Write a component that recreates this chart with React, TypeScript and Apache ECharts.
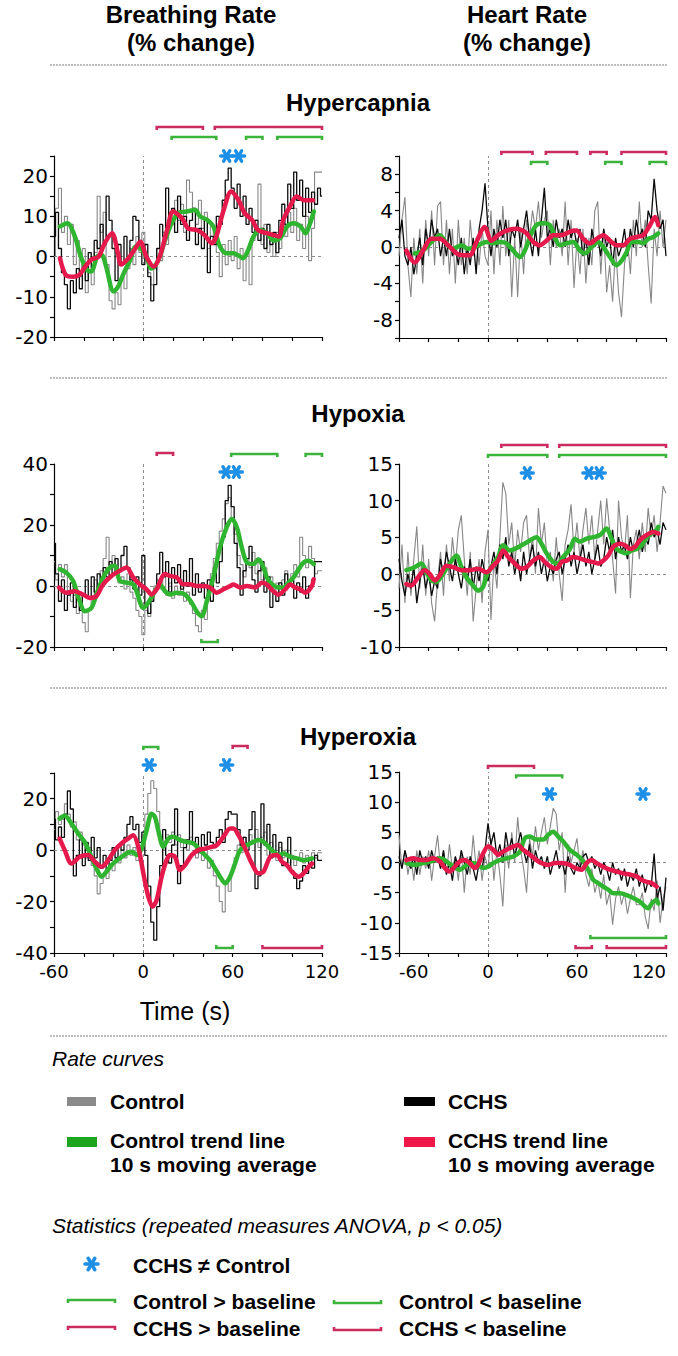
import React, { useEffect, useRef } from "react";
import * as echarts from "echarts";

const FONT = '"Liberation Sans", Arial, Helvetica, sans-serif';
const TICK_FONT = '"DejaVu Sans", "Liberation Sans", Arial, sans-serif';
const RAW_T0 = -60;
const RAW_DT = 2;

const COL_CTRL_RAW = "#878787";
const COL_CCHS_RAW = "#0a0a0a";
const COL_CTRL_TREND = "#2fb52f";
const COL_CCHS_TREND = "#e5194c";
const COL_CTRL_BRACKET = "#3cb43c";
const COL_CCHS_BRACKET = "#cc2b5e";
const COL_STAR = "#1e8fe6";

// ---------- Breathing rate, Hypercapnia ----------
const brHcCchs = [
  5, 11, 2, -4, -7, -13, -6, -9, -3, -8,
  -2, -6, 1, -3, 4, 2, 8, 3, 15, 9,
  2, -6, 3, -2, 5, 0, 4, 10, 9, 2,
  -2, 3, -5, -11, -7, 2, 8, 5, 17, 10,
  12, 6, 15, 8, 10, 4, 9, 12, 3, 7,
  2, 9, -4, 5, 3, 10, 8, 14, 19, 22,
  17, 12, 18, 10, 15, 8, 12, 6, 9, 4,
  7, 2, 8, 3, 6, 1, 9, 13, 8, 18,
  12, 21, 14, 19, 10, 17, 11, 16, 13, 17,
  15,
];
const brHcCtrl = [
  0, 12, 17, 6, 10, 3, 8, -2, 4, -5,
  2, -9, -4, -7, 1, 15, 6, 11, -2, -11,
  -13, -9, -12, -5, -8, -3, 2, -2, 5, 1,
  6, -1, -4, -7, -3, 2, -1, 6, 3, 11,
  8, 14, 9, 13, 6, 19, 16, 12, 8, 14,
  7, 11, 2, 8, 4, 1, -5, 3, -2, 4,
  -1, 5, -3, 2, -6, 1, -7, 4, 9, 18,
  3, 8, 1, 5, 0, 6, 2, 9, 5, 11,
  6, 12, 4, 8, 2, 10, -1, 7, 21, 21,
  21,
];
const brHcCchsTrend = [
  [-56, -0.4], [-52, -4.6], [-47, -5], [-43, -4.6], [-39, -2.5], [-35, -0.8], [-30, 0], [-26, 3.3],
  [-21, 5.8], [-17, 0.8], [-15, -2], [-10, -0.4], [-6, 1.7], [-2, 3.7], [2, 0], [7, -2.5], [11, 0],
  [16, 6.6], [20, 11.2], [26, 9.5], [30, 7], [36, 6.6], [41, 5.4], [46, 3.3], [49, 5], [54, 11.6],
  [59, 16.2], [64, 14], [68, 10.8], [73, 9.1], [77, 6.6], [83, 5.8], [87, 5.4], [91, 5], [94, 9.1],
  [99, 12.8], [103, 14.9], [108, 14], [114, 14],
];
const brHcCtrlTrend = [
  [-56, 7.5], [-51, 8.3], [-46, 5], [-42, 0], [-38, -3.3], [-35, -3.7], [-31, 0], [-28, 0.4],
  [-25, -2.5], [-20, -8.7], [-17, -7.5], [-13, -4], [-9, -1], [-5, 2.5], [-1, 1.7], [2, 0],
  [5.5, -3], [10, -1], [14.5, 4], [19, 8.3], [23.5, 10.8], [29, 11.2], [35, 11.6], [38, 10],
  [43, 9.1], [47, 7.5], [51.5, 2.5], [56, 0.8], [60.5, 0.8], [65, 0], [67, -0.4], [70.5, 1.7],
  [74, 5], [78.5, 6.6], [83, 5.8], [87.5, 4], [92, 4.6], [96.5, 7.5], [101, 8.3], [105.5, 7.5],
  [109, 5.8], [112, 8.3], [114.5, 11.2],
];
const brHcCchsAbove = [[9, 40], [48, 120]];
const brHcCtrlAbove = [[19, 49], [69, 80], [90, 120]];
const brHcStars = [56, 64];

// ---------- Heart rate, Hypercapnia ----------
const hrHcCchs = [
  1, 3, -1, -2, 0, -3, -1, 1, -2, 2,
  0, 3, 1, 2, -1, 1, -1, 2, -1, 0,
  -2, 1, -3, 0, -2, 1, -3, 2, 4, 7,
  2, -1, 2, 0, 3, 1, 3, -1, 2, 1,
  3, 0, 2, 4, 1, -1, 2, -1, 3, 6.5,
  1, 2, 0, 3, 1, 2, 0, 3, 1, 2,
  0, 2, -1, 1, -2, 2, 0, 1, -1, 2,
  0, 1, -2, 1, -1, 0, 2, -1, 2, 0,
  3, 1, 2, 0, 4, 3, 7.5, 4, 2, 3,
  -1,
];
const hrHcCtrl = [
  -1, 3, 5.5, -2, -5.5, 1, -3, 2, -4, 3,
  -1, 4, -2, 4.5, 5, -2, 3, -3, 2, -4,
  3, -2, 1, -3, 3, -1, 1, -2, 2, -1,
  -2, 4, -3, 3, -2, 4.5, -1, 3, -5.5, 1,
  -5.5, 2, -3, 3, 1, 4, 2, 5, 1, 3,
  4, -2, 3, 0, 2, -1, 5, -2, 3, -4.5,
  1, -3, 2, -4, 1, -2, 4, 5, -3, 2,
  -5, -2, -6, 0, -5, -7.7, -2, 1, -3, 3,
  -1, 5, 0, 3, -2, -6.2, 2, -1, 4, 0,
  3,
];
const hrHcCchsTrend = [
  [-55, -0.4], [-49.4, -1.7], [-43.8, -0.4], [-38.2, 0.9], [-32.5, 0.9], [-26.9, 0.2], [-21.3, -0.7],
  [-16.8, -0.9], [-12.3, -0.9], [-7.8, 0.55], [-2.2, 2.2], [2.3, 0.7], [6.8, 1.3], [12.5, 1.8],
  [19.2, 2], [26, 1.5], [30.5, 0.55], [35, 0.2], [39.5, 0.7], [44, 1.3], [49.6, 1.3], [55.2, 1.7],
  [59.7, 1.8], [64.2, 0.9], [68.7, 0.4], [73.2, 0.9], [77.7, 1.3], [82.2, 0.7], [86.7, 0.2],
  [91.2, 0.2], [95.7, 0.9], [100.2, 1.1], [104.7, 1.3], [109.2, 2.4], [112.6, 3.3], [114.8, 2.4],
];
const hrHcCtrlTrend = [
  [-49.4, -0.7], [-43.8, -0.4], [-38.2, 0.55], [-32.5, 1.3], [-28, 0.4], [-23.5, -0.2], [-17.9, 0.2],
  [-13.4, -0.2], [-8.9, 0], [-1, 0.55], [3.5, 0.4], [8, 0.55], [12.5, 0.4], [17, -0.4], [21.5, -1.1],
  [24.8, -0.4], [29.3, 1.5], [32.7, 2.4], [37.2, 2.6], [41.7, 2.4], [45.1, 1.1], [48.5, 0.2],
  [53, 0.4], [57.5, 0.55], [62, -0.4], [65.3, -0.7], [69.8, 0], [74.3, 0.55], [77.7, 0],
  [82.2, -1.1], [86.7, -2.0], [90.1, -1.5], [93.5, -0.55], [96.8, 0.55], [101.3, 0.55],
  [104.7, 0.4], [108.1, 0.9], [111.5, 1.1], [114.8, 1.5],
];
const hrHcCchsAbove = [[9, 30], [39, 60], [69, 80], [90, 120]];
const hrHcCtrlAbove = [[29, 40], [79, 90], [109, 120]];

// ---------- Breathing rate, Hypoxia ----------
const brHxCchs = [
  14, 4, -5, 2, -8, -3, 1, -7, -2, -8,
  -3, 2, -4, 3, -2, 4, 1, 6, 3, 8,
  4, 9, 5, 10, 13, 6, 2, -1, 3, -3,
  10, -6, -9, -5, -2, 4, 11, 3, 8, -2,
  6, 1, 7, -1, 5, 0, 9, -3, 4, -2,
  1, -4, 2, -5, 6, 1, 8, 16, 28, 33,
  26, 14, 6, -3, 5, 9, 13, 2, -2, 5,
  8, -2, 3, -7, -2, -5, 1, -3, 4, 0,
  2, -4, 1, -2, 3, -4, 0, 2, 8, 8,
  8,
];
const brHxCtrl = [
  8, 2, 7, 3, 7, -2, -5, -3, -9, -6,
  -12, -15, -8, -4, 2, -1, 5, 9, 16, 7,
  10, 4, 1, 3, -1, 4, -2, -4, -8, -10,
  -16, -8, -10, -4, 0, 2, -1, 4, -3, 1,
  -4, 0, -3, 2, -5, -2, -6, -9, -13, -15,
  -8, -11, -3, 4, 9, 14, 18, 22, 27, 29,
  22, 17, 10, 7, 3, 9, 6, 11, 4, 8,
  2, 6, 0, 3, -2, 1, -3, 2, 5, 1,
  4, 7, 3, 16, 10, 6, 13, 9, 4, 5,
  5,
];
const brHxCchsTrend = [
  [-56.6, -0.5], [-51.7, -2.2], [-46.1, -1.7], [-40.5, -2.8], [-36, -3.9], [-31.5, -3.3], [-27, 0.55],
  [-21.4, 3.3], [-15.8, 5], [-11.3, 6.1], [-6.8, 2.8], [-2.3, 0.55], [2.2, -1.1], [5.5, -2.8],
  [8.9, -1.1], [14.5, 3.9], [17.9, 3.3], [22.4, 2.8], [26.8, 0.55], [31.3, 0.55], [35.8, 0],
  [40.3, 0], [44.8, -0.5], [49.3, -2.2], [53.8, -1.1], [58.3, 0], [60.5, 0.5], [65, -0.5],
  [69.5, 0], [75.1, -0.5], [79.6, 1.1], [83, 0.5], [87.4, -1.7], [90.8, -2.8], [95.3, -1.1],
  [98.7, 0.5], [102, -0.5], [105.4, -1.1], [108.8, -2.2], [113.2, 0], [114.4, 2.2],
];
const brHxCtrlTrend = [
  [-56.2, 5.5], [-51.7, 4.4], [-47.2, 1.7], [-42.7, -5], [-39.4, -8.3], [-34.9, -7.2], [-31.5, -2.8],
  [-27, 2.8], [-22.5, 6.1], [-19.2, 6.6], [-15.8, 1.7], [-11.3, 1.1], [-6.8, 0.55], [-4.6, -1.7],
  [-0.1, -7.2], [3.3, -5.5], [7.8, -1.7], [11.1, 0.55], [14.5, -1.7], [17.9, -2.8], [22.4, -2.2],
  [28, -2.8], [32.5, -5.5], [35.8, -8.3], [39.2, -9.9], [42.6, -5], [47, 2.8], [51.5, 12.7],
  [56, 19.3], [59.4, 22], [62.8, 19.3], [66.1, 12.7], [69.5, 7.7], [74, 7.2], [77.3, 8.8],
  [80.7, 6.1], [83, 2.8], [86.3, 0.55], [90.8, -0.5], [94.2, -0.5], [97.5, 1.1], [100.9, 2.8],
  [104.3, 5.5], [107.6, 7.7], [111, 8.3], [114.4, 7.2],
];
const brHxCchsAbove = [[9, 20]];
const brHxCtrlAbove = [[59, 90], [109, 120]];
const brHxCtrlBelow = [[39, 50]];
const brHxStars = [55.5, 62.5];

// ---------- Heart rate, Hypoxia ----------
const hrHxCchs = [
  2, -1, -3, 0, -2, 1, -4, -1, 1, -2,
  0, -3, -1, -2, 2, 0, 3, 1, -1, 2,
  0, -2, 1, -1, 2, -2, 1, -1, 2, 0,
  -1, 1, 3, 0, 4, 2, 5, 1, 3, 0,
  2, -1, 3, 0, 2, 4, 1, 3, 0, 2,
  -1, 1, 0, 2, 3, 0, 2, 4, 1, 3,
  0, 2, 4, 1, 3, 0, 2, 4, 1, 2,
  5, 3, 6, 2, 5, 3, 4, 2, 5, 3,
  4, 6, 3, 5, 4, 7, 5, 6, 4, 7,
  6,
];
const hrHxCtrl = [
  -2, 4, -4, 3, -3, 2, 6.5, -2, 4, -3,
  2, -4, -6.5, -1, 3, -3, 4, -1, 5, 1,
  6, 8, 2, -3, 3, -6.5, -2, 2, -4, 3,
  6, -6.3, 2, -2, 5, 12.5, 11, 4, 7, 1,
  6, 3, 7, 8, 2, 5, 0, 9, 4, 7,
  1, 3, -1, 5, 0, -3.7, 4, 6, 9.5, 3,
  7, 2, 6, 9, 4, 8, 2, 6, 10, 4,
  10.3, 6, 2, -2.7, 10, 5, 3, 8, -3.3, 4,
  6, 2, 7, 3, 9, 5, 8, 3, 7, 12,
  11,
];
const hrHxCchsTrend = [
  [-55, -1.4], [-51.7, -1.6], [-47.2, -0.5], [-42.7, 0.5], [-39.3, 0], [-35.9, -0.9], [-32.5, -0.2],
  [-28, 1.1], [-23.5, 0.9], [-17.9, 0.5], [-12.3, 0.5], [-6.7, 0.7], [-1, 0.2], [3.5, 1.1],
  [6.8, 1.8], [10.2, 3.2], [13.6, 2.3], [18.1, 1.4], [22.6, 0.7], [26, 0.9], [30.5, 1.8], [35, 2.3],
  [38.3, 1.6], [42.8, 0.9], [46.2, 0.7], [49.6, 1.6], [53, 1.8], [57.5, 2.3], [62, 2.1], [66.5, 1.8],
  [71, 1.6], [74.3, 1.4], [77.7, 1.8], [81.1, 2.5], [84.5, 3.7], [89, 4.1], [92.3, 3.9], [95.7, 3.4],
  [99.1, 3.7], [102.5, 4.6], [107, 5.3], [111.5, 5.7], [114.8, 5.5],
];
const hrHxCtrlTrend = [
  [-55, 0.5], [-49.4, 0.9], [-44.9, 1.4], [-41.5, 0.2], [-38.2, -0.9], [-34.8, -1.1], [-30.3, 0],
  [-25.8, 1.4], [-21.3, 2.5], [-17.9, 0.9], [-14.5, -0.5], [-10, -1.6], [-6.7, -2.3], [-3.3, -1.8],
  [-1, -0.2], [2.3, 0.9], [6.8, 2.3], [10.2, 3.9], [14.7, 3.2], [18.1, 3.4], [22.6, 3.9], [27.1, 4.4],
  [32.7, 5], [36.1, 4.1], [39.5, 2.8], [44, 1.6], [47.3, 1.4], [50.7, 2.3], [55.2, 3.4], [58.6, 4.8],
  [62, 4.4], [66.5, 4.8], [71, 5], [75.5, 5.3], [80, 6.2], [83.3, 4.8], [86.7, 3.4], [90.1, 3.0],
  [93.5, 2.8], [96.8, 3.2], [100.2, 3.4], [103.6, 3.9], [107, 5], [110.3, 5.5], [113.7, 6],
  [114.8, 6.4],
];
const hrHxCchsAbove = [[9, 40], [48, 120]];
const hrHxCtrlAbove = [[0, 40], [48, 120]];
const hrHxStars = [26.5, 68, 75];

// ---------- Breathing rate, Hyperoxia ----------
const brHoCchs = [
  12, 4, 9, 5, 14, 23, 16, -10, -2, 4,
  -6, 3, -4, 5, -3, 1, -7, -2, -8, -4,
  1, -3, 2, 0, 5, 10, 13, 8, 10, 3,
  7, -2, -14, -28, -35, -22, -6, 8, -2, -5,
  2, 16, -13, -6, 1, 4, 15, 3, 5, -1,
  6, 2, 7, 3, 1, 5, 8, 3, 12, 15,
  14, 14, 8, 2, 5, 0, 8, 15, -15, -10,
  18, 2, 10, -3, 6, -2, 3, -6, -5, 5,
  -8, -11, -15, -12, -6, -9, -3, -7, -2, -4,
  -4,
];
const brHoCtrl = [
  8, 15, 10, 12, 18, 14, 9, 11, 4, 7,
  2, -3, 1, -6, -10, -17, -13, -9, -11, -6,
  -8, -3, -5, 0, -3, 2, -2, 1, -4, 1,
  6, 14, 22, 27, 24, 15, 4, 0, 6, 3,
  7, 2, 6, 1, 4, 0, 5, 2, -3, 1,
  -4, 0, -7, -4, -10, -14, -20, -24, -12, -16,
  -8, -3, 2, -1, 5, 2, 6, 3, 8, 1,
  5, 7, -2, 3, -1, -4, 1, -3, 0, -5,
  -2, -6, -3, -1, -5, -2, -4, -1, -3, -1,
  -1,
];
const brHoCchsTrend = [
  [-56.2, 4.5], [-52.8, 0], [-48.3, -5.2], [-42.7, -2.6], [-37.1, -1.9], [-32.6, -4.5], [-28.1, -6.5],
  [-23.6, -3.9], [-19.2, 0], [-14.7, 2.6], [-10.2, 4.5], [-6.8, 5.8], [-3.4, 1.3], [0, -9],
  [3.3, -18], [6.2, -22], [8.9, -19.4], [12.3, -10.3], [15.6, -3.9], [17.9, -1.9], [21.2, -2.6],
  [24.6, -7.7], [28, -5.8], [32.5, -1.9], [36.9, 0], [41.4, 0.6], [45.9, 1.3], [49.3, 1.9],
  [53.8, 5.2], [58.3, 8.4], [60.5, 8.4], [63.9, 5.8], [68.4, 0.6], [72.9, -5.2], [77.3, -9],
  [80.7, -8.4], [85.2, -2.6], [89.7, -1.9], [93.1, -4.5], [96.4, -5.8], [99.8, -8.4],
  [104.3, -10.3], [107.6, -9], [111, -6.5], [113.3, -5.2],
];
const brHoCtrlTrend = [
  [-56.2, 12.3], [-52.8, 13.5], [-48.3, 10.3], [-43.8, 6.5], [-39.4, 3.2], [-34.9, -2.6], [-30.4, -8.4],
  [-28.1, -10.3], [-24.8, -8.4], [-20.3, -5.2], [-15.8, -3.2], [-11.3, -1.3], [-7.9, -0.6],
  [-4.6, -1.9], [-1.2, 0.6], [2.2, 7.7], [5.5, 14.2], [7.8, 12.9], [10, 7.7], [13.4, 1.3],
  [16.8, 4.5], [20.1, 5.2], [24.6, 3.9], [29.1, 3.2], [33.6, 2.6], [38.1, 0], [41.4, -1.9],
  [44.8, -3.9], [48.2, -7.1], [51.5, -10.3], [54.9, -12.9], [58.3, -10.3], [61.6, -5.2], [65, 0],
  [69.5, 1.9], [74, 3.2], [77.3, 3.9], [80.7, 3.2], [84.1, 1.3], [87.4, -0.6], [90.8, -1.9],
  [94.2, -1.3], [98.7, -2.6], [103.2, -3.2], [107.6, -3.9], [113.3, -3.2],
];
const brHoCtrlAbove = [[0, 10]];
const brHoCchsAbove = [[60, 70]];
const brHoCtrlBelow = [[49, 60]];
const brHoCchsBelow = [[80, 120]];
const brHoStars = [4, 56];

// ---------- Heart rate, Hyperoxia ----------
const hrHoCchs = [
  1, -1, 2, 0, -1, 1, -2, 2, 0, 1,
  -1, 2, 0, 1, -1, 2, -2, 0, -3, 1,
  -1, 2, 0, -2, 1, -1, -3, 0, -1, 2,
  6.5, 3, 5, 1, 3, 0, 5, 2, 4, 1,
  3, 5, 2, 0, 3, -1, 2, 0, 1, -1,
  1, -2, 0, 2, -1, 0, -2, 1, -1, -2,
  0, -1, 1, 1.5, 0, 1, -1, 0, -2, 0,
  -1, -3, 0, -2, -1, -3, -1, -4, -2, -3,
  -1, -4, -2, -5, -3, -4, 1.5, -6, -4, -8,
  -2.5,
];
const hrHoCtrl = [
  4.5, -1, 2, -2, 1, -3, 2, -2, 1, -1,
  2, -3, 1, 4.5, -1, 2, -2, 3, -1, 1,
  -3, 2, -5, 1, -2, 4.5, -1, 2, -3, 1,
  -1, 4, -3, 2, -2, -7.3, 3, -1, 5, 0,
  7.5, 2, -1, -5, 4, 1, 6, 2, 5, 7.5,
  3, 6, 9, 8, 2, 5, -5, 3, 0, 2,
  4, -1, 2, -2, -4, -1, -5, -3, -6, -2,
  -7, -5, -10.3, -6, -4, -7, -5, -8.5, -6, -4,
  -7, -7, -5, -9, -11, -6, -8, -3, -10, -6,
  -4,
];
const hrHoCchsTrend = [
  [-55, 0.4], [-50.5, 0.7], [-46, 0.4], [-41.5, 0.4], [-37, 0.7], [-32.5, 0.2], [-29.2, -0.9],
  [-25.8, -1.5], [-22.4, -0.7], [-19, 0.2], [-15.7, 0.4], [-12.3, -0.1], [-8.9, -0.9], [-6.7, -0.4],
  [-3.3, 1.5], [0.1, 2.7], [3.5, 2.1], [6.8, 1.3], [10.2, 1.8], [14.7, 2.4], [20.3, 2.9], [23.7, 2.1],
  [28.2, 1.3], [32.7, 0.4], [36.1, -0.1], [40.6, -0.4], [45.1, -0.1], [49.6, -0.1], [55.2, -0.4],
  [58.6, -0.9], [63.1, -1.2], [66.5, -0.1], [69.8, 0.4], [73.2, -0.1], [77.7, -0.7], [82.2, -1.2],
  [86.7, -1.5], [91.2, -1.8], [95.7, -2.0], [100.2, -2.3], [103.6, -2.9], [107, -3.2], [110.3, -3.4],
  [113.7, -4.0],
];
const hrHoCtrlTrend = [
  [-55, -0.1], [-49.4, -0.4], [-43.8, -0.1], [-38.2, 0.2], [-32.5, 0.7], [-28, 0.2], [-23.5, -0.7],
  [-19, -1.2], [-14.5, -0.4], [-10, -0.1], [-6.7, -0.4], [-3.3, -0.9], [0.1, -0.7], [3.5, -0.1],
  [8, 0.4], [12.5, 0.7], [17, 1.0], [21.5, 1.8], [24.8, 4.0], [28.2, 4.3], [32.7, 3.8], [37.2, 3.8],
  [40.6, 4.6], [44, 5.1], [47.3, 4.3], [50.7, 3.5], [55.2, 2.1], [59.7, 1.3], [64.2, 0.2],
  [67.6, -1.2], [71, -2.9], [74.3, -3.4], [77.7, -4.0], [81.1, -4.5], [84.5, -5.1], [89, -5.1],
  [93.5, -5.4], [98, -5.9], [102.5, -6.5], [105.8, -7.3], [108.1, -7.6], [110.3, -6.8],
  [113.7, -6.2], [114.8, -6.8],
];
const hrHoCchsAbove = [[0, 31]];
const hrHoCtrlAbove = [[19, 50]];
const hrHoCtrlBelow = [[69, 120]];
const hrHoCchsBelow = [[59, 70], [80, 120]];
const hrHoStars = [41.5, 104.5];

// ---------- axis tick values ----------
const xTickLabels = [-60, 0, 60, 120];

// ---------- layout of the six panels ----------
const LEFT_X = 54, LEFT_W = 268, RIGHT_X = 399, RIGHT_W = 267;

const panels: any[] = [
  {
    grid: { left: LEFT_X, top: 156, width: LEFT_W, height: 181 },
    y: { min: -20, max: 25, interval: 5, labelEvery: 10 }, step: "middle", showX: false, right: false,
    ctrl: brHcCtrl, cchs: brHcCchs, ctrlTrend: brHcCtrlTrend, cchsTrend: brHcCchsTrend,
    brackets: [
      { spans: brHcCchsAbove, color: COL_CCHS_BRACKET, edge: "top", off: -29, dir: 1 },
      { spans: brHcCtrlAbove, color: COL_CTRL_BRACKET, edge: "top", off: -19, dir: 1 },
    ],
    stars: brHcStars, starOff: 0,
  },
  {
    grid: { left: RIGHT_X, top: 156, width: RIGHT_W, height: 182 },
    y: { min: -10, max: 10, interval: 2, labelEvery: 4 }, step: false, showX: false, right: true,
    ctrl: hrHcCtrl, cchs: hrHcCchs, ctrlTrend: hrHcCtrlTrend, cchsTrend: hrHcCchsTrend,
    brackets: [
      { spans: hrHcCchsAbove, color: COL_CCHS_BRACKET, edge: "top", off: -4, dir: 1 },
      { spans: hrHcCtrlAbove, color: COL_CTRL_BRACKET, edge: "top", off: 6, dir: 1 },
    ],
    stars: [], starOff: 0,
  },
  {
    grid: { left: LEFT_X, top: 464, width: LEFT_W, height: 183 },
    y: { min: -20, max: 40, interval: 10, labelEvery: 20 }, step: "middle", showX: false, right: false,
    ctrl: brHxCtrl, cchs: brHxCchs, ctrlTrend: brHxCtrlTrend, cchsTrend: brHxCchsTrend,
    brackets: [
      { spans: brHxCchsAbove, color: COL_CCHS_BRACKET, edge: "top", off: -11, dir: 1 },
      { spans: brHxCtrlAbove, color: COL_CTRL_BRACKET, edge: "top", off: -10, dir: 1 },
      { spans: brHxCtrlBelow, color: COL_CTRL_BRACKET, edge: "bottom", off: -5, dir: -1 },
    ],
    stars: brHxStars, starOff: 8,
  },
  {
    grid: { left: RIGHT_X, top: 464, width: RIGHT_W, height: 183 },
    y: { min: -10, max: 15, interval: 5, labelEvery: 5 }, step: false, showX: false, right: true,
    ctrl: hrHxCtrl, cchs: hrHxCchs, ctrlTrend: hrHxCtrlTrend, cchsTrend: hrHxCchsTrend,
    brackets: [
      { spans: hrHxCchsAbove, color: COL_CCHS_BRACKET, edge: "top", off: -19, dir: 1 },
      { spans: hrHxCtrlAbove, color: COL_CTRL_BRACKET, edge: "top", off: -9, dir: 1 },
    ],
    stars: hrHxStars, starOff: 9,
  },
  {
    grid: { left: LEFT_X, top: 773, width: LEFT_W, height: 180 },
    y: { min: -40, max: 30, interval: 10, labelEvery: 20 }, step: "middle", showX: true, right: false,
    ctrl: brHoCtrl, cchs: brHoCchs, ctrlTrend: brHoCtrlTrend, cchsTrend: brHoCchsTrend,
    brackets: [
      { spans: brHoCtrlAbove, color: COL_CTRL_BRACKET, edge: "top", off: -26, dir: 1 },
      { spans: brHoCchsAbove, color: COL_CCHS_BRACKET, edge: "top", off: -27, dir: 1 },
      { spans: brHoCtrlBelow, color: COL_CTRL_BRACKET, edge: "bottom", off: -5, dir: -1 },
      { spans: brHoCchsBelow, color: COL_CCHS_BRACKET, edge: "bottom", off: -5, dir: -1 },
    ],
    stars: brHoStars, starOff: -8,
  },
  {
    grid: { left: RIGHT_X, top: 772, width: RIGHT_W, height: 181 },
    y: { min: -15, max: 15, interval: 5, labelEvery: 5 }, step: false, showX: true, right: true,
    ctrl: hrHoCtrl, cchs: hrHoCchs, ctrlTrend: hrHoCtrlTrend, cchsTrend: hrHoCchsTrend,
    brackets: [
      { spans: hrHoCchsAbove, color: COL_CCHS_BRACKET, edge: "top", off: -6, dir: 1 },
      { spans: hrHoCtrlAbove, color: COL_CTRL_BRACKET, edge: "top", off: 3.5, dir: 1 },
      { spans: hrHoCtrlBelow, color: COL_CTRL_BRACKET, edge: "bottom", off: -15, dir: -1 },
      { spans: hrHoCchsBelow, color: COL_CCHS_BRACKET, edge: "bottom", off: -5, dir: -1 },
    ],
    stars: hrHoStars, starOff: 22,
  },
];

function starLines(x: number, y: number, r: number, lw: number) {
  return [0, 60, 120].map((a) => {
    const rad = (a * Math.PI) / 180;
    const dx = r * Math.cos(rad);
    const dy = r * Math.sin(rad);
    return {
      type: "line",
      shape: { x1: x - dx, y1: y - dy, x2: x + dx, y2: y + dy },
      style: { stroke: COL_STAR, lineWidth: lw, lineCap: "round" },
    };
  });
}

function bracketPoints(x1: number, x2: number, y: number, dir: number) {
  const h = 3 * dir;
  return [[x1, y + h], [x1, y], [x2, y], [x2, y + h]];
}

function txt(text: string, x: number, y: number, size: number, opts: any = {}) {
  return {
    type: "text",
    x,
    y,
    silent: true,
    style: {
      text,
      fontFamily: opts.family || FONT,
      fontSize: size,
      fontWeight: opts.weight || "normal",
      fontStyle: opts.italic ? "italic" : "normal",
      fill: "#000",
      align: opts.align || "left",
      verticalAlign: "middle",
    },
  };
}

function sepLine(y: number) {
  return {
    type: "line",
    silent: true,
    shape: { x1: 50, y1: y, x2: 667, y2: y },
    style: { stroke: "#a8a8a8", lineWidth: 1.6, lineDash: [2, 1] },
  };
}

function buildOption() {
  const grid = panels.map((p) => ({ ...p.grid, containLabel: false }));
  const xAxis = panels.map((p, i) => ({
    type: "value",
    gridIndex: i,
    min: -60,
    max: 120,
    interval: 20,
    axisLine: { show: true, onZero: false, lineStyle: { color: "#000", width: 1.2 } },
    axisTick: { show: true, length: 4, lineStyle: { color: "#000", width: 1.2 } },
    splitLine: { show: false },
    axisLabel: {
      show: p.showX,
      margin: 9,
      color: "#000",
      fontFamily: TICK_FONT,
      fontSize: 18,
      alignMinLabel: p.right ? "left" : undefined,
      alignMaxLabel: p.right ? "right" : undefined,
      formatter: (v: number) => (xTickLabels.indexOf(v) >= 0 ? String(v) : ""),
    },
  }));
  const yAxis = panels.map((p, i) => ({
    type: "value",
    gridIndex: i,
    min: p.y.min,
    max: p.y.max,
    interval: p.y.interval,
    axisLine: { show: true, onZero: false, lineStyle: { color: "#000", width: 1.2 } },
    axisTick: { show: true, length: 4, lineStyle: { color: "#000", width: 1.2 } },
    splitLine: { show: false },
    axisLabel: {
      margin: 6,
      color: "#000",
      fontFamily: TICK_FONT,
      fontSize: 20,
      formatter: (v: number) => (Math.abs(v % p.y.labelEvery) < 1e-9 ? String(v) : ""),
    },
  }));

  const series: any[] = [];
  panels.forEach((p, i) => {
    const ax = { xAxisIndex: i, yAxisIndex: i };
    series.push({
      type: "line",
      ...ax,
      silent: true,
      symbol: "none",
      step: p.step,
      z: 2,
      data: p.ctrl.map((v: number, k: number) => [RAW_T0 + k * RAW_DT, v]),
      lineStyle: { color: COL_CTRL_RAW, width: 1.1 },
      markLine: {
        silent: true,
        symbol: "none",
        z: 1,
        label: { show: false },
        lineStyle: { color: "#8c8c8c", type: [3, 3], width: 1 },
        data: [{ xAxis: 0 }, { yAxis: 0 }],
      },
    });
    series.push({
      type: "line",
      ...ax,
      silent: true,
      symbol: "none",
      step: p.step,
      z: 3,
      data: p.cchs.map((v: number, k: number) => [RAW_T0 + k * RAW_DT, v]),
      lineStyle: { color: COL_CCHS_RAW, width: 1.3 },
    });
    series.push({
      type: "line",
      ...ax,
      silent: true,
      symbol: "none",
      smooth: 0.3,
      z: 4,
      data: p.ctrlTrend,
      lineStyle: { color: COL_CTRL_TREND, width: 4.5, cap: "round", join: "round" },
    });
    series.push({
      type: "line",
      ...ax,
      silent: true,
      symbol: "none",
      smooth: 0.3,
      z: 5,
      data: p.cchsTrend,
      lineStyle: { color: COL_CCHS_TREND, width: 4.5, cap: "round", join: "round" },
    });
    p.brackets.forEach((b: any) => {
      series.push({
        type: "custom",
        ...ax,
        clip: false,
        silent: true,
        z: 6,
        data: b.spans,
        renderItem: (params: any, api: any) => {
          const cs = params.coordSys;
          const x1 = api.coord([api.value(0), 0])[0];
          const x2 = api.coord([api.value(1), 0])[0];
          const y = (b.edge === "top" ? cs.y : cs.y + cs.height) + b.off;
          return {
            type: "polyline",
            shape: { points: bracketPoints(x1, x2, y, b.dir) },
            style: { stroke: b.color, lineWidth: 2.6, fill: "none" },
          };
        },
      });
    });
    if (p.stars.length) {
      series.push({
        type: "custom",
        ...ax,
        clip: false,
        silent: true,
        z: 7,
        data: p.stars.map((t: number) => [t, 0]),
        renderItem: (params: any, api: any) => {
          const cs = params.coordSys;
          const x = api.coord([api.value(0), 0])[0];
          const y = cs.y + p.starOff;
          return { type: "group", children: starLines(x, y, 6, 3.4) };
        },
      });
    }
  });

  const graphic: any[] = [
    txt("Breathing Rate", 191, 14, 24, { weight: "bold", align: "center" }),
    txt("(% change)", 191, 42, 24, { weight: "bold", align: "center" }),
    txt("Heart Rate", 527, 14, 24, { weight: "bold", align: "center" }),
    txt("(% change)", 527, 42, 24, { weight: "bold", align: "center" }),
    sepLine(65),
    txt("Hypercapnia", 358, 102, 24, { weight: "bold", align: "center" }),
    sepLine(378),
    txt("Hypoxia", 358, 413, 24, { weight: "bold", align: "center" }),
    sepLine(688),
    txt("Hyperoxia", 358, 736, 24, { weight: "bold", align: "center" }),
    txt("Time (s)", 185, 1011, 25, { align: "center" }),
    sepLine(1036),
    // Rate curves legend
    txt("Rate curves", 52, 1058, 21, { italic: true }),
    { type: "rect", silent: true, shape: { x: 67, y: 1097, width: 29, height: 9 }, style: { fill: "#8a8a8a" } },
    txt("Control", 110, 1101, 21, { weight: "bold" }),
    { type: "rect", silent: true, shape: { x: 404, y: 1097, width: 31, height: 9 }, style: { fill: "#000" } },
    txt("CCHS", 448, 1101, 21, { weight: "bold" }),
    { type: "rect", silent: true, shape: { x: 67, y: 1137, width: 30, height: 10 }, style: { fill: "#1ea51e" } },
    txt("Control trend line", 110, 1140, 21, { weight: "bold" }),
    txt("10 s moving average", 110, 1164, 21, { weight: "bold" }),
    { type: "rect", silent: true, shape: { x: 404, y: 1137, width: 31, height: 10 }, style: { fill: "#f0174a" } },
    txt("CCHS trend line", 448, 1140, 21, { weight: "bold" }),
    txt("10 s moving average", 448, 1164, 21, { weight: "bold" }),
    // Statistics legend
    txt("Statistics (repeated measures ANOVA, p < 0.05)", 52, 1225, 21, { italic: true }),
    { type: "group", silent: true, children: starLines(91.5, 1264, 6.5, 3.6) },
    txt("CCHS \u2260 Control", 133, 1265, 21, { weight: "bold" }),
    { type: "polyline", silent: true, shape: { points: bracketPoints(68, 115, 1300, 1) }, style: { stroke: COL_CTRL_BRACKET, lineWidth: 2.6, fill: "none" } },
    txt("Control > baseline", 133, 1301, 21, { weight: "bold" }),
    { type: "polyline", silent: true, shape: { points: bracketPoints(334, 381, 1303, -1) }, style: { stroke: COL_CTRL_BRACKET, lineWidth: 2.6, fill: "none" } },
    txt("Control < baseline", 399, 1301, 21, { weight: "bold" }),
    { type: "polyline", silent: true, shape: { points: bracketPoints(68, 115, 1327, 1) }, style: { stroke: COL_CCHS_BRACKET, lineWidth: 2.6, fill: "none" } },
    txt("CCHS > baseline", 133, 1328, 21, { weight: "bold" }),
    { type: "polyline", silent: true, shape: { points: bracketPoints(334, 381, 1330, -1) }, style: { stroke: COL_CCHS_BRACKET, lineWidth: 2.6, fill: "none" } },
    txt("CCHS < baseline", 399, 1328, 21, { weight: "bold" }),
  ];

  return {
    animation: false,
    backgroundColor: "#fff",
    grid,
    xAxis,
    yAxis,
    series,
    graphic,
  };
}

export default function App() {
  const ref = useRef<HTMLDivElement>(null);
  useEffect(() => {
    const chart = echarts.init(ref.current as HTMLDivElement, undefined, { renderer: "svg" });
    chart.setOption(buildOption() as any);
    return () => chart.dispose();
  }, []);
  return (
    <div
      ref={ref}
      style={{ position: "absolute", left: 0, top: 0, width: 678, height: 1356, background: "#fff" }}
    />
  );
}
